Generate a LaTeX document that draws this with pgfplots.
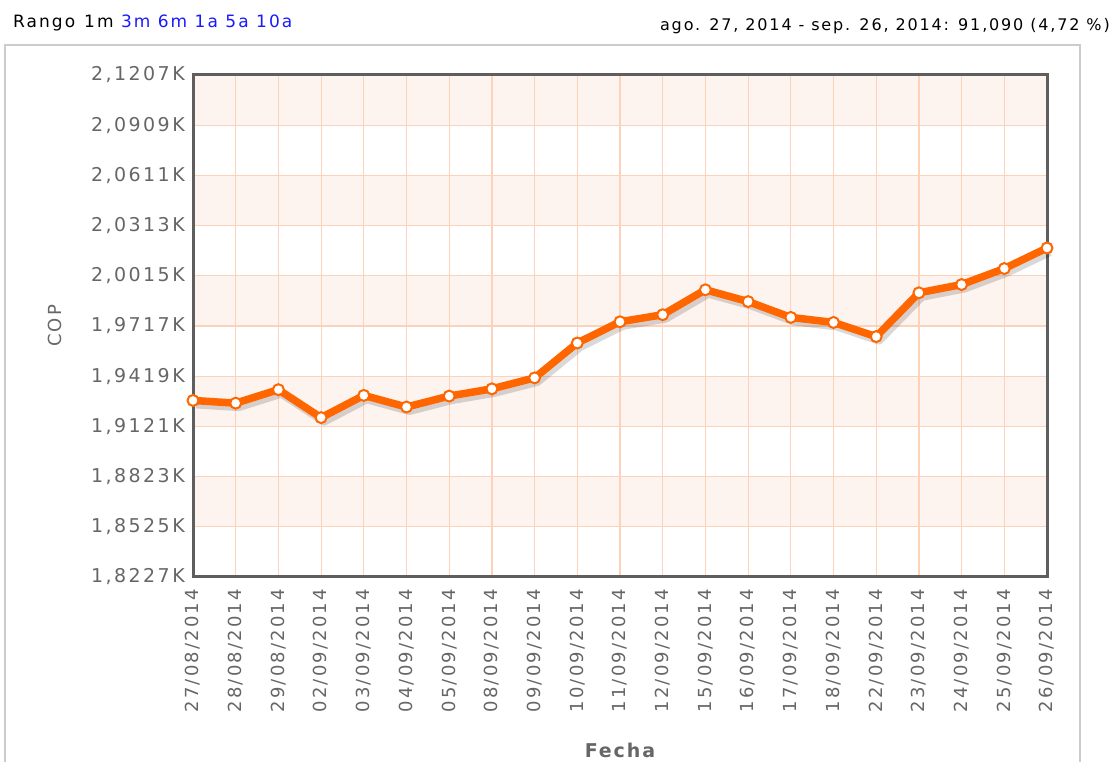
\documentclass[border=0pt]{standalone}
\usepackage{pgfplots}
\pgfplotsset{compat=1.18}
\usepackage{fontspec}
\setmainfont{DejaVu Sans}
\newfontfamily\yfont[LetterSpace=13]{DejaVu Sans}
\newfontfamily\xfont[LetterSpace=12]{DejaVu Sans}
\newfontfamily\topfont[LetterSpace=12]{DejaVu Sans}
\newfontfamily\rfont[LetterSpace=11.5]{DejaVu Sans}
\newfontfamily\bfont[LetterSpace=10]{DejaVu Sans Bold}
\definecolor{cop}{HTML}{FF6600}
\definecolor{txtgray}{HTML}{666666}
\definecolor{axgray}{HTML}{5E5E5E}
\definecolor{gridc}{HTML}{FDD2BA}
\definecolor{band}{HTML}{FDF3EF}
\definecolor{linkblue}{HTML}{1A1AFF}
\definecolor{framec}{HTML}{CCCCCC}
\pgfplotstableread{
x y
0 1927.5
1 1925.9
2 1933.9
3 1917.3
4 1930.5
5 1923.6
6 1930.1
7 1934.4
8 1940.9
9 1961.6
10 1974.2
11 1978.4
12 1993.2
13 1986.2
14 1976.8
15 1973.8
16 1965.4
17 1991.4
18 1996.3
19 2005.8
20 2018.0
}\copdata
\begin{document}
\begin{tikzpicture}[x=1pt,y=1pt]
\path (0,0) rectangle (1117,762);
\draw[framec, line width=1.5pt] (5,0) -- (5,717) -- (1080,717) -- (1080,0);
\node[anchor=base west, inner sep=0pt, font=\topfont\fontsize{17}{20}\selectfont] at (13,734) {Rango\hspace{9pt}1m \textcolor{linkblue}{3m 6m 1a 5a 10a}};
\node[anchor=base east, inner sep=0pt, font=\rfont\fontsize{16}{19}\selectfont] at (1110,731) {ago. 27, 2014 - sep. 26, 2014: 91,090 (4,72 \%)};
\begin{axis}[
  at={(193pt,185pt)}, anchor=south west,
  scale only axis, width=854pt, height=502pt,
  set layers, clip=false,
  xmin=0, xmax=20, ymin=1822.7, ymax=2120.7,
  xtick={0,...,20},
  xticklabels={27/08/2014,28/08/2014,29/08/2014,02/09/2014,03/09/2014,04/09/2014,05/09/2014,08/09/2014,09/09/2014,10/09/2014,11/09/2014,12/09/2014,15/09/2014,16/09/2014,17/09/2014,18/09/2014,22/09/2014,23/09/2014,24/09/2014,25/09/2014,26/09/2014},
  ytick={1822.7,1852.5,1882.3,1912.1,1941.9,1971.7,2001.5,2031.3,2061.1,2090.9,2120.7},
  yticklabels={{1,8227K},{1,8525K},{1,8823K},{1,9121K},{1,9419K},{1,9717K},{2,0015K},{2,0313K},{2,0611K},{2,0909K},{2,1207K}},
  major tick length=0pt,
  ticklabel style={text=txtgray, inner sep=0pt},
  xticklabel style={font=\xfont\fontsize{18}{21}\selectfont, yshift=-12pt, rotate=90, anchor=east},
  yticklabel style={font=\yfont\fontsize{19}{22}\selectfont, xshift=-8pt, anchor=east},
  xtick pos=bottom, ytick pos=left,
  grid=major,
  major grid style={draw=gridc, line width=1.2pt},
  axis line style={draw=axgray, line width=3pt},
  xlabel={Fecha},
  ylabel={COP},
  xlabel style={font=\bfont\fontsize{19}{22}\selectfont, text=txtgray, at={(axis description cs:0.5,-0.3446)}, anchor=center},
  ylabel style={font=\xfont\fontsize{18}{21}\selectfont, text=txtgray, at={(axis description cs:-0.1616,0.5)}, anchor=center},
]
\pgfonlayer{axis background}
\fill[band] (axis cs:0,1852.5) rectangle (axis cs:20,1882.3);
\fill[band] (axis cs:0,1912.1) rectangle (axis cs:20,1941.9);
\fill[band] (axis cs:0,1971.7) rectangle (axis cs:20,2001.5);
\fill[band] (axis cs:0,2031.3) rectangle (axis cs:20,2061.1);
\fill[band] (axis cs:0,2090.9) rectangle (axis cs:20,2120.7);
\endpgfonlayer
\addplot[black, opacity=0.15, line width=8pt, line join=round, xshift=3pt, yshift=-4pt, no markers, forget plot] table[x=x,y=y]{\copdata};
\addplot[cop, line width=7.5pt, line join=round, mark=*, mark size=5.5pt, mark options={fill=white, draw=cop, line width=2pt}] table[x=x,y=y]{\copdata};
\end{axis}
\end{tikzpicture}
\end{document}
